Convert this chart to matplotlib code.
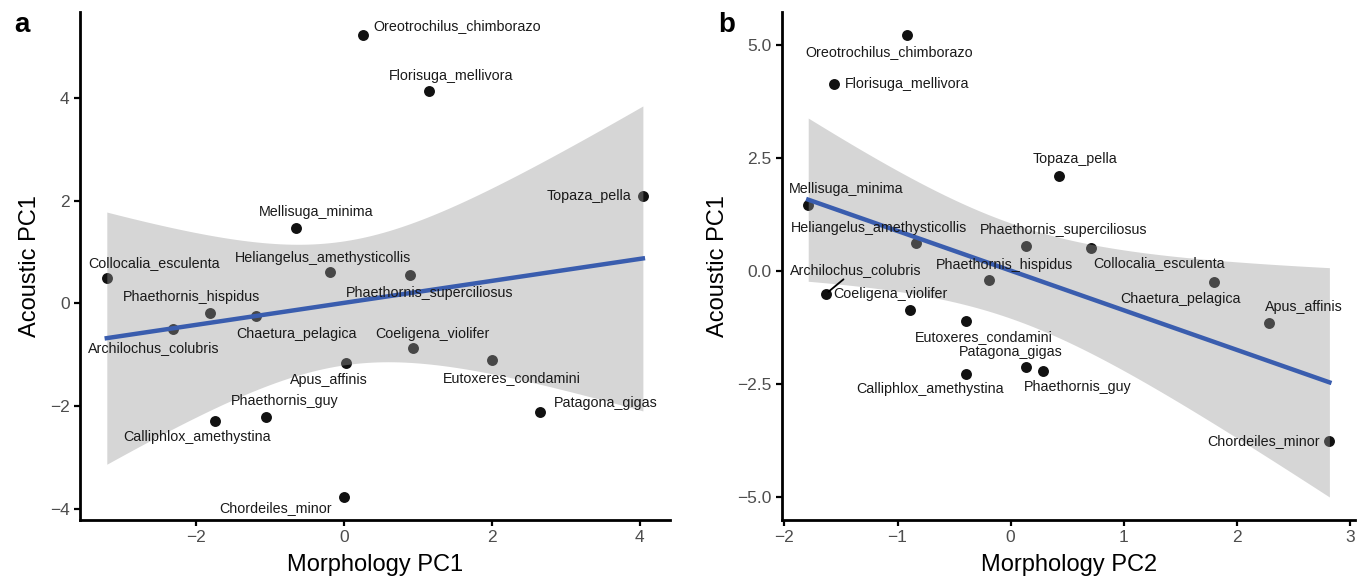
import matplotlib
matplotlib.use("Agg")
import matplotlib.pyplot as plt
import numpy as np

plt.rcParams['font.family'] = ['Liberation Sans', 'DejaVu Sans']

# species names (same order in every array)
species = [
    "Oreotrochilus_chimborazo", "Florisuga_mellivora", "Topaza_pella",
    "Mellisuga_minima", "Collocalia_esculenta", "Heliangelus_amethysticollis",
    "Phaethornis_superciliosus", "Phaethornis_hispidus", "Chaetura_pelagica",
    "Archilochus_colubris", "Coeligena_violifer", "Eutoxeres_condamini",
    "Apus_affinis", "Patagona_gigas", "Phaethornis_guy",
    "Calliphlox_amethystina", "Chordeiles_minor",
]
acoustic_pc1 = [5.22, 4.14, 2.10, 1.46, 0.50, 0.62, 0.56, -0.19, -0.25,
                -0.50, -0.87, -1.11, -1.16, -2.12, -2.21, -2.29, -3.77]
morph_pc1 = [0.26, 1.15, 4.04, -0.64, -3.20, -0.18, 0.89, -1.81, -1.19,
             -2.30, 0.93, 2.00, 0.03, 2.65, -1.05, -1.74, 0.01]
morph_pc2 = [-0.92, -1.56, 0.43, -1.79, 0.71, -0.84, 0.14, -0.19, 1.80,
             -1.63, -0.89, -0.39, 2.29, 0.14, 0.29, -0.39, 2.82]

# label offsets (pixels, y up) for each panel
offs_a = [(94, 9), (22, 15), (-54, 0), (20, 16), (47, 15), (-7, 14), (20, -18),
          (-18, 16), (41, -18), (-20, -19), (20, 14), (20, -18), (-17, -17),
          (66, 9), (19, 16), (-18, -16), (-69, -11)]
offs_b = [(-17, -17), (73, 0), (16, 17), (38, 16), (68, -15), (-37, 15), (37, 16),
          (15, 15), (-34, -17), (29, 24), (-20, 16), (17, -16), (34, 16),
          (-16, 15), (34, -16), (-36, -15), (-66, 0)]

T975 = 2.131  # t quantile, df = 15


def smooth(ax, x, y):
    x = np.asarray(x)
    y = np.asarray(y)
    n = len(x)
    b, a = np.polyfit(x, y, 1)
    resid = y - (a + b * x)
    s = np.sqrt(np.sum(resid ** 2) / (n - 2))
    sxx = np.sum((x - x.mean()) ** 2)
    xs = np.linspace(x.min(), x.max(), 100)
    fit = a + b * xs
    se = s * np.sqrt(1 / n + (xs - x.mean()) ** 2 / sxx)
    ax.fill_between(xs, fit - T975 * se, fit + T975 * se, color='#999999',
                    alpha=0.4, linewidth=0, zorder=3)
    ax.plot(xs, fit, color='#3A5DAE', linewidth=3.2, zorder=4)


def panel(ax, x, y, offs, xlabel, letter, leader=None):
    ax.scatter(x, y, s=62, color='#111111', zorder=2, linewidths=0)
    smooth(ax, x, y)
    for i, name in enumerate(species):
        kw = {}
        if name == leader:
            kw['arrowprops'] = dict(arrowstyle='-', color='black', lw=1.3,
                                    shrinkA=0, shrinkB=2)
        ax.annotate(name, (x[i], y[i]), xytext=offs[i], textcoords='offset pixels',
                    ha='center', va='center', fontsize=10.3, color='#1a1a1a',
                    zorder=5, **kw)
    for sp in ['top', 'right']:
        ax.spines[sp].set_visible(False)
    for sp in ['left', 'bottom']:
        ax.spines[sp].set_linewidth(2.0)
    ax.tick_params(width=1.6, length=4, labelsize=12.5, labelcolor='#4D4D4D')
    ax.set_xlabel(xlabel, fontsize=17, labelpad=6)
    ax.set_ylabel('Acoustic PC1', fontsize=17, labelpad=6)
    ax.margins(0.05)
    ax.text(-0.112, 0.975, letter, transform=ax.transAxes, fontsize=20,
            fontweight='bold', va='center')


fig = plt.figure(figsize=(13.65, 5.85), dpi=100)
ax1 = fig.add_axes([0.0586, 0.111, 0.432, 0.868])
ax2 = fig.add_axes([0.573, 0.111, 0.42, 0.868])

panel(ax1, morph_pc1, acoustic_pc1, offs_a, 'Morphology PC1', 'a')
ax1.set_xticks([-2, 0, 2, 4])
ax1.set_yticks([-4, -2, 0, 2, 4])
ax1.set_xticklabels(['\u22122', '0', '2', '4'])
ax1.set_yticklabels(['\u22124', '\u22122', '0', '2', '4'])

panel(ax2, morph_pc2, acoustic_pc1, offs_b, 'Morphology PC2', 'b',
      leader='Archilochus_colubris')
ax2.set_xticks([-2, -1, 0, 1, 2, 3])
ax2.set_xticklabels(['\u22122', '\u22121', '0', '1', '2', '3'])
ax2.set_yticks([-5, -2.5, 0, 2.5, 5])
ax2.set_yticklabels(['\u22125.0', '\u22122.5', '0.0', '2.5', '5.0'])

fig.savefig('out.png', dpi=100)
